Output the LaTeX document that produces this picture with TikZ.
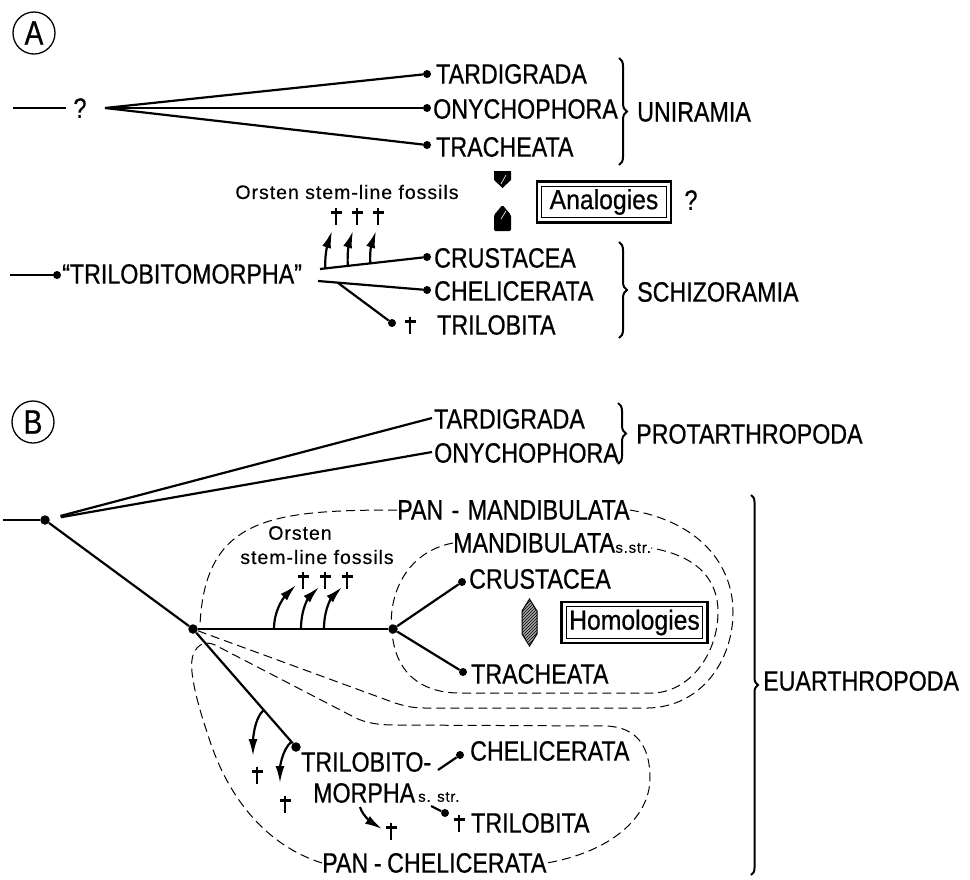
\documentclass[tikz,border=0pt]{standalone}
\usepackage{fontspec}
\setmainfont{Liberation Sans}[FakeStretch=0.83, FakeBold=0.6]
\newfontfamily\notefont{Liberation Sans}[LetterSpace=5, FakeBold=0.4]
\newfontfamily\boxfont{Liberation Sans}[FakeStretch=0.9, FakeBold=0.6]
\usetikzlibrary{arrows.meta,calc,patterns,decorations.pathreplacing}

\tikzset{
  taxon/.style={anchor=west, inner sep=0pt, font=\fontsize{28}{30}\selectfont},
  note/.style={inner sep=0pt, font=\notefont\fontsize{19.5}{22}\selectfont},
  sstr/.style={anchor=west, inner sep=0pt, font=\notefont\fontsize{15}{16}\selectfont},
  extinct/.pic={
    \draw[line width=2.2pt] (0,-8.5) -- (0,8.5);
    \draw[line width=2.2pt] (-5.5,-3.5) -- (5.5,-3.5);
  },
  tipdot/.style={circle, fill, inner sep=0pt, minimum size=8pt},
  knot/.style={circle, fill, inner sep=0pt, minimum size=9.5pt},
  branch/.style={line width=2.2pt},
  clade/.style={line width=1pt, dash pattern=on 9pt off 5pt},
  stemarrow/.style={line width=2.2pt, -{Latex[length=17pt,width=9pt]}},
  bracket/.style={line width=2pt, decorate, decoration={brace, amplitude=8pt}},
  panel/.style={circle, draw, line width=1.3pt, minimum size=42pt, inner sep=0pt, font=\fontsize{34}{34}\selectfont},
  frame/.style={draw, line width=1.3pt, inner xsep=3pt, inner ysep=3pt, font=\boxfont\fontsize{27.5}{30}\selectfont}
}

\begin{document}
\begin{tikzpicture}[x=1pt, y=-1pt]
  \fill[white] (0,0) rectangle (970,879);
  \useasboundingbox (0,0) rectangle (970,879);

  %%%%% PANEL A %%%%%
  \node[panel] (pA) at (34,33) {A};

  % uniramous side
  \coordinate (rootA) at (13,108);
  \coordinate (rootAend) at (66,108);
  \node[inner sep=0pt, font=\fontsize{28}{30}\selectfont] (qA) at (80,108) {?};
  \coordinate (forkA) at (105,108);
  \node[tipdot] (dTarA) at (427,74) {};
  \node[tipdot] (dOnyA) at (427,108) {};
  \node[tipdot] (dTraA) at (427,145) {};
  \draw[branch] (rootA) -- (rootAend);
  \draw[branch] (forkA) -- (dTarA);
  \draw[branch] (forkA) -- (dOnyA);
  \draw[branch] (forkA) -- (dTraA);
  \node[taxon] (tarA) at (436,74) {TARDIGRADA};
  \node[taxon] (onyA) at (433,109) {ONYCHOPHORA};
  \node[taxon] (traA) at (436,147) {TRACHEATA};
  \draw[bracket] (619,58) -- (619,165);
  \node[taxon] (uni) at (637,112) {UNIRAMIA};

  % analogies
  \fill (494,171) -- (511,171) -- (511,180) -- (502.5,188) -- (494,180) -- cycle;
  \draw[white, line width=0.6pt] (506,175) -- (501,184);
  \fill[rounded corners=1.5pt] (494,231) -- (511,231) -- (511,215) -- (502.5,205) -- (494,215) -- cycle;
  \draw[white, line width=0.6pt] (506,211) -- (501,219);
  \node[frame, minimum width=125pt] (ana) at (604,202) {Analogies};
  \draw[line width=2.2pt] ($(ana.south west)+(-4,4)$) rectangle ($(ana.north east)+(4,-4)$);
  \node[inner sep=0pt, font=\fontsize{28}{30}\selectfont] (qAna) at (691,200) {?};

  % schizoramous side
  \coordinate (rootT) at (10,275);
  \node[tipdot] (dTri) at (57,275) {};
  \draw[branch] (rootT) -- (dTri);
  \node[taxon] (trimo) at (62,274) {``TRILOBITOMORPHA''};
  \coordinate (forkT1) at (320,269);
  \coordinate (forkT2) at (318,281);
  \node[tipdot] (dCruA) at (427,257) {};
  \node[tipdot] (dCheA) at (427,290) {};
  \node[tipdot] (dTrbA) at (392,323) {};
  \coordinate (forkT3) at ($(forkT2)!0.18!(dCheA)$);
  \draw[branch] (forkT1) -- (dCruA);
  \draw[branch] (forkT2) -- (dCheA);
  \draw[branch] (forkT3) -- (dTrbA);
  \node[taxon] (cruA) at (434,258) {CRUSTACEA};
  \node[taxon] (cheA) at (434,291) {CHELICERATA};
  \pic (xTrbA) at (410,325) {extinct};
  \node[taxon] (trbA) at (437,325) {TRILOBITA};
  \draw[bracket] (619,242) -- (619,338);
  \node[taxon] (schizo) at (637,292) {SCHIZORAMIA};

  % Orsten fossils
  \node[note] (orA) at (347,192) {Orsten stem-line fossils};
  \pic (xA1) at (336,216) {extinct};
  \pic (xA2) at (357,216) {extinct};
  \pic (xA3) at (378,216) {extinct};
  \coordinate (sA1) at ($(forkT1)!0.05!(dCruA)$);
  \coordinate (sA2) at ($(forkT1)!0.26!(dCruA)$);
  \coordinate (sA3) at ($(forkT1)!0.47!(dCruA)$);
  \coordinate (tA1) at (332,231);
  \coordinate (tA2) at (353,231);
  \coordinate (tA3) at (376,231);
  \draw[stemarrow] (sA1) .. controls +(-1,-16) and +(-3,9) .. (tA1);
  \draw[stemarrow] (sA2) .. controls +(-1,-16) and +(-3,9) .. (tA2);
  \draw[stemarrow] (sA3) .. controls +(-1,-16) and +(-3,9) .. (tA3);

  %%%%% PANEL B %%%%%
  \node[panel] (pB) at (33,422) {B};

  \coordinate (rootB) at (3,520);
  \node[knot] (nB0) at (45,520) {};
  \node[knot] (nB1) at (193,629) {};
  \node[knot] (nB2) at (393,629) {};
  \coordinate (eTarB) at (432,418);
  \coordinate (eOnyB) at (432,452);
  \draw[branch] (rootB) -- (nB0);
  \draw[branch, shorten <=11pt] (nB0) -- (eTarB);
  \draw[branch, shorten <=11pt] (nB0) -- (eOnyB);
  \draw[branch] (nB0) -- (nB1);
  \draw[branch] (nB1) -- (nB2);
  \node[taxon] (tarB) at (434,419) {TARDIGRADA};
  \node[taxon] (onyB) at (434,453) {ONYCHOPHORA};
  \draw[bracket] (618,403) -- (618,464);
  \node[taxon] (protar) at (636,434) {PROTARTHROPODA};

  % mandibulates
  \node[tipdot] (dCruB) at (462,582) {};
  \node[tipdot] (dTraB) at (463,672) {};
  \draw[branch] (nB2) -- (dCruB);
  \draw[branch] (nB2) -- (dTraB);
  \node[taxon] (cruB) at (469,579) {CRUSTACEA};
  \node[taxon] (traB) at (471,674) {TRACHEATA};
  \draw[line width=1pt, fill=black!35, postaction={pattern=north east lines}]
    (529.5,599) -- (537,611) -- (537,634) -- (529.5,646) -- (522,634) -- (522,611) -- cycle;
  \node[frame] (hom) at (634.5,622.5) {Homologies};
  \draw[line width=2.2pt] ($(hom.south west)+(-4,4)$) rectangle ($(hom.north east)+(4,-4)$);

  % Orsten fossils
  \node[note] (orB1) at (300,533) {Orsten};
  \node[note] (orB2) at (317,557) {stem-line fossils};
  \pic (xB1) at (303,580) {extinct};
  \pic (xB2) at (325,580) {extinct};
  \pic (xB3) at (347,580) {extinct};
  \coordinate (sB1) at ($(nB1)!0.405!(nB2)$);
  \coordinate (sB2) at ($(nB1)!0.54!(nB2)$);
  \coordinate (sB3) at ($(nB1)!0.655!(nB2)$);
  \coordinate (tB1) at (296,585);
  \coordinate (tB2) at (319,587);
  \coordinate (tB3) at (342,587);
  \draw[stemarrow] (sB1) .. controls +(0,-22) and +(-9,9) .. (tB1);
  \draw[stemarrow] (sB2) .. controls +(0,-22) and +(-9,9) .. (tB2);
  \draw[stemarrow] (sB3) .. controls +(0,-22) and +(-9,9) .. (tB3);

  % chelicerates
  \node[knot] (dTmB) at (296,747) {};
  \draw[branch] (nB1) -- (dTmB);
  \node[taxon] (tmB1) at (301,762) {TRILOBITO-};
  \node[taxon] (tmB2) at (313,793) {MORPHA};
  \node[sstr] (sstrT) at (418,797) {s. str.};
  \node[tipdot] (dCheB) at (460,755) {};
  \coordinate (sCheB) at (438,770);
  \draw[branch] (sCheB) -- (dCheB);
  \node[taxon] (cheB) at (470,751) {CHELICERATA};
  \node[tipdot] (dTrbB) at (445,813) {};
  \coordinate (sTrbB) at (431,806);
  \draw[branch] (sTrbB) -- (dTrbB);
  \pic (xTrbB) at (459,823) {extinct};
  \node[taxon] (trbB) at (471,823) {TRILOBITA};
  \coordinate (sC1) at ($(nB1)!0.686!(dTmB)$);
  \coordinate (sC2) at ($(nB1)!0.955!(dTmB)$);
  \coordinate (sC3) at (360,807);
  \coordinate (tC1) at (253,756);
  \coordinate (tC2) at (280,783);
  \coordinate (tC3) at (382,829);
  \draw[stemarrow] (sC1) .. controls +(-10,9) and +(0,-14) .. (tC1);
  \draw[stemarrow] (sC2) .. controls +(-10,9) and +(0,-14) .. (tC2);
  \draw[stemarrow] (sC3) .. controls +(3,10) and +(-8,-5) .. (tC3);
  \pic (xC1) at (257,775) {extinct};
  \pic (xC2) at (285,804) {extinct};
  \pic (xC3) at (391,831) {extinct};

  % clades
  \node[taxon] (panM) at (397,510) {PAN\hspace{0.3em}-\hspace{0.3em}MANDIBULATA};
  \node[taxon] (mand) at (453,543) {MANDIBULATA};
  \node[sstr] (sstrM) at (mand.east) [yshift=-5pt] {s.str.};
  \node[taxon] (panC) at (322,863) {PAN\hspace{0.2em}-\hspace{0.2em}CHELICERATA};
  \draw[clade] (panM.west) .. controls (270,510) and (205,518) .. (200,625);
  \draw[clade] (panM.east) .. controls (700,522) and (733,565) .. (733,612)
    .. controls (733,662) and (700,707) .. (648,708) -- (425,708)
    .. controls (412,708) and (405,706) .. (395,703) -- (nB1);
  \draw[clade] (mand.west) .. controls (405,552) and (385,598) .. (393,640)
    .. controls (398,672) and (420,693) .. (460,693) -- (655,693)
    .. controls (692,690) and (718,652) .. (718,612)
    .. controls (718,580) and (698,556) .. (sstrM.east);
  \draw[clade] (panC.west) .. controls (268,846) and (228,800) .. (208,735)
    .. controls (196,700) and (190,672) .. (192,660)
    .. controls (194,645) and (205,640) .. (215,645) -- (350,715)
    .. controls (362,722) and (375,725) .. (395,725) -- (606,726)
    .. controls (638,727) and (650,748) .. (650,778)
    .. controls (650,818) and (610,852) .. (panC.east);

  \draw[bracket, decoration={amplitude=7pt}] (751,495) -- (751,875);
  \node[taxon] (euar) at (763,681) {EUARTHROPODA};
\end{tikzpicture}
\end{document}
